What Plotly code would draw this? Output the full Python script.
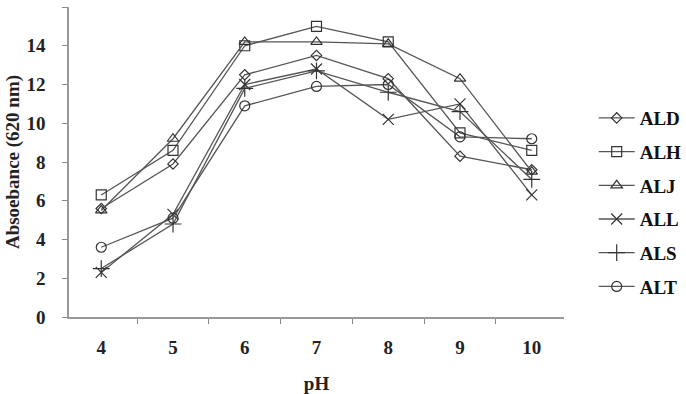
import plotly.graph_objects as go

ph = ["4", "5", "6", "7", "8", "9", "10"]
ALD = [5.6, 7.9, 12.5, 13.5, 12.3, 8.3, 7.6]
ALH = [6.3, 8.6, 14.0, 15.0, 14.2, 9.5, 8.6]
ALJ = [5.5, 9.2, 14.2, 14.2, 14.1, 12.3, 7.5]
ALL = [2.3, 5.3, 12.0, 12.8, 10.2, 11.0, 6.3]
ALS = [2.5, 4.8, 11.8, 12.7, 11.6, 10.6, 7.1]
ALT = [3.6, 5.1, 10.9, 11.9, 12.0, 9.3, 9.2]

series = [
    ("ALD", ALD, "diamond-open", 8),
    ("ALH", ALH, "square-open", 10),
    ("ALJ", ALJ, "triangle-up-open", 10),
    ("ALL", ALL, "x-thin-open", 11),
    ("ALS", ALS, "cross-thin-open", 12),
    ("ALT", ALT, "circle-open", 10),
]

FONT = "Liberation Serif"
fig = go.Figure()
for name, vals, sym, sz in series:
    fig.add_trace(go.Scatter(
        x=ph, y=vals, name=name, legendgroup=name, mode="lines+markers",
        line=dict(color="#555555", width=1.3),
        marker=dict(symbol=sym, size=sz, color="#333333",
                    line=dict(color="#333333", width=1.2)),
    ))

fig.update_layout(
    width=686, height=394,
    margin=dict(l=69, r=122, t=7, b=77, autoexpand=False),
    paper_bgcolor="white", plot_bgcolor="white",
    font=dict(family=FONT, color="#222", size=14),
    showlegend=True,
    legend=dict(x=1.06, y=0.703, xanchor="left", yanchor="top",
                itemwidth=36,
                font=dict(family=FONT, size=19, color="#111", weight="bold"),
                tracegroupgap=6, bgcolor="rgba(0,0,0,0)"),
    xaxis=dict(type="category", tickson="boundaries", ticks="outside",
               ticklen=5, tickcolor="#888", showline=True, linecolor="#999",
               linewidth=1.5, showgrid=False, zeroline=False, automargin=False,
               ticklabelstandoff=12,
               tickfont=dict(family=FONT, size=19, weight="bold", color="#222"),
               title=dict(text="pH", font=dict(family=FONT, size=19, weight="bold", color="#222"),
                          standoff=22)),
    yaxis=dict(range=[0, 16], dtick=2, ticks="outside", ticklen=5,
               tickcolor="#888", showline=True, linecolor="#999", linewidth=1.5,
               showgrid=False, zeroline=False, ticklabelstandoff=13, automargin=False,
               tickfont=dict(family=FONT, size=19, weight="bold", color="#222"),
               title=dict(text="Absoebance (620 nm)",
                          font=dict(family=FONT, size=19, weight="bold", color="#222"),
                          standoff=2)),
)

fig.write_html("out.html")
